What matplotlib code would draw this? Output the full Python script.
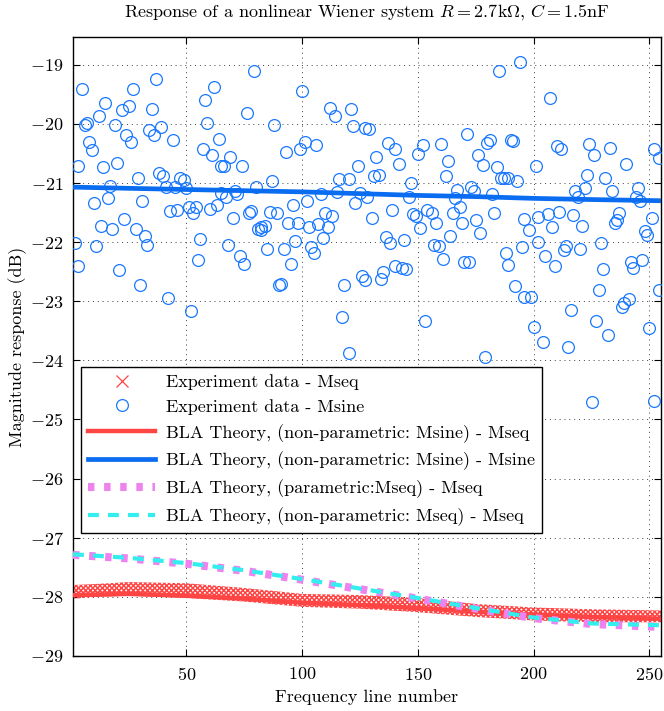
import matplotlib
matplotlib.use("Agg")
import matplotlib.pyplot as plt
from matplotlib.lines import Line2D

plt.rcParams["font.family"] = ["cmr10", "DejaVu Serif"]
plt.rcParams["mathtext.fontset"] = "cm"
plt.rcParams["axes.formatter.use_mathtext"] = True
plt.rcParams["axes.unicode_minus"] = True
plt.rcParams["hatch.linewidth"] = 1.1

# Msine experiment: one point per frequency line
msine_line = [
    2, 3, 3, 5, 6, 7, 8, 9, 10, 11, 12, 13, 14, 15, 16, 17, 18, 19, 20, 21,
    22, 23, 24, 25, 26, 27, 28, 29, 30, 31, 32, 33, 34, 35, 36, 37, 38, 39, 40, 41,
    42, 43, 44, 45, 46, 47, 49, 50, 51, 52, 53, 54, 55, 56, 57, 58, 59, 60, 61, 62,
    63, 64, 65, 65, 66, 67, 68, 69, 70, 71, 72, 73, 74, 75, 76, 77, 78, 79, 80, 81,
    82, 82, 84, 85, 86, 87, 88, 89, 90, 91, 92, 93, 94, 95, 96, 97, 98, 99, 100, 101,
    102, 103, 104, 105, 106, 107, 108, 109, 110, 111, 112, 113, 114, 115, 116, 117, 118, 120, 120, 121,
    122, 123, 124, 125, 126, 127, 127, 128, 129, 130, 131, 132, 133, 134, 135, 136, 137, 138, 139, 140,
    140, 142, 143, 144, 145, 146, 147, 148, 149, 150, 151, 152, 153, 154, 156, 157, 158, 159, 160, 161,
    162, 163, 164, 165, 166, 167, 168, 169, 170, 171, 172, 173, 174, 175, 176, 177, 178, 179, 180, 181,
    182, 183, 184, 185, 186, 187, 188, 189, 189, 190, 191, 192, 193, 194, 195, 196, 196, 198, 199, 200,
    201, 202, 202, 204, 205, 206, 207, 208, 209, 210, 211, 212, 213, 214, 215, 216, 217, 218, 219, 220,
    221, 222, 223, 224, 225, 226, 227, 228, 229, 230, 231, 232, 233, 234, 235, 236, 237, 238, 239, 240,
    241, 242, 243, 244, 245, 246, 247, 248, 249, 250, 251, 252, 252, 254, 254,
]
msine_db = [
    -22.01, -20.72, -22.41, -19.41, -20.02, -19.99, -20.31, -20.44, -21.34, -22.07,
    -19.86, -21.72, -20.73, -19.65, -21.26, -21.05, -21.78, -20.02, -20.66, -22.47,
    -19.77, -21.61, -20.18, -19.70, -20.30, -19.41, -21.78, -20.91, -22.73, -21.31,
    -21.89, -22.05, -20.10, -19.75, -20.18, -19.24, -20.83, -20.06, -20.89, -21.07,
    -22.95, -21.48, -20.27, -21.06, -21.45, -20.92, -20.95, -21.09, -21.41, -23.17,
    -21.51, -21.41, -22.31, -21.94, -20.42, -19.60, -19.99, -21.44, -20.52, -19.38,
    -21.37, -20.26, -20.72, -21.17, -20.71, -21.23, -22.05, -20.56, -21.59, -21.14,
    -21.18, -22.23, -20.72, -22.37, -19.82, -21.51, -21.48, -19.10, -21.06, -21.77,
    -21.79, -21.74, -21.72, -22.12, -21.49, -20.96, -20.02, -21.51, -22.72, -22.71,
    -22.12, -20.48, -21.68, -22.37, -21.37, -21.98, -21.67, -20.43, -19.44, -20.30,
    -21.30, -21.74, -22.09, -22.19, -20.36, -21.69, -21.18, -21.93, -21.51, -21.75,
    -19.73, -21.55, -19.86, -21.16, -20.93, -23.26, -22.73, -20.93, -23.87, -19.74,
    -20.03, -21.34, -20.71, -21.17, -22.57, -22.64, -20.07, -21.24, -20.08, -21.59,
    -20.88, -20.56, -20.86, -22.63, -22.51, -21.92, -20.33, -22.02, -21.46, -20.43,
    -22.40, -20.68, -22.44, -21.96, -22.45, -21.23, -21.00, -21.52, -21.55, -20.51,
    -21.76, -20.35, -23.34, -21.45, -21.51, -22.05, -21.68, -22.07, -20.34, -22.28,
    -20.89, -20.62, -21.89, -21.50, -21.26, -21.12, -21.40, -21.68, -22.34, -20.17,
    -22.33, -21.06, -21.14, -21.62, -20.52, -21.85, -20.69, -23.95, -20.33, -20.27,
    -21.19, -21.51, -20.73, -19.10, -20.92, -20.92, -22.19, -20.92, -22.38, -20.28,
    -20.29, -22.75, -20.96, -18.95, -22.09, -21.61, -22.93, -21.79, -22.93, -23.44,
    -20.72, -22.00, -21.57, -23.69, -22.23, -21.53, -19.56, -21.74, -22.41, -20.38,
    -21.49, -20.42, -22.13, -22.07, -23.77, -23.15, -21.54, -21.14, -21.24, -22.11,
    -21.72, -21.08, -20.86, -20.34, -24.70, -20.52, -23.33, -22.81, -22.01, -22.46,
    -20.91, -23.57, -20.40, -21.13, -21.68, -21.62, -21.51, -23.09, -23.03, -20.68,
    -22.96, -22.34, -22.43, -21.24, -21.09, -21.30, -22.31, -21.82, -21.88, -23.46,
    -21.59, -24.69, -20.42, -20.58, -22.81,
]

# Mseq experiment: spread of all realisations (upper / lower edge of the cloud)
mseq_band_line = [1, 12, 25, 50, 75, 100, 125, 150, 175, 200, 225, 255]
mseq_band_top = [-27.80, -27.78, -27.75, -27.77, -27.85, -27.95, -27.97, -28.02,
                 -28.12, -28.18, -28.21, -28.23]
mseq_band_bottom = [-28.03, -28.00, -27.98, -28.02, -28.08, -28.17, -28.20, -28.26,
                    -28.34, -28.40, -28.43, -28.43]

# BLA theory curves
bla_line = [1, 25, 50, 75, 100, 125, 150, 175, 200, 225, 255]
bla_msine_mseq = [-27.97, -27.95, -27.98, -28.03, -28.10, -28.14, -28.19, -28.25,
                  -28.30, -28.34, -28.37]
bla_msine_msine = [-21.07, -21.09, -21.11, -21.13, -21.15, -21.18, -21.21, -21.23,
                   -21.26, -21.28, -21.30]
bla_param_mseq = [-27.29, -27.35, -27.44, -27.56, -27.71, -27.87, -28.03, -28.20,
                  -28.36, -28.46, -28.51]
bla_nonparam_mseq = [-27.28, -27.34, -27.43, -27.55, -27.70, -27.86, -28.02, -28.19,
                     -28.35, -28.45, -28.48]

labels = [
    "Experiment data - Mseq",
    "Experiment data - Msine",
    "BLA Theory, (non-parametric: Msine) - Mseq",
    "BLA Theory, (non-parametric: Msine) - Msine",
    "BLA Theory, (parametric:Mseq) - Mseq",
    "BLA Theory, (non-parametric: Mseq) - Mseq",
]

red = "#ff4444"
blue = "#0a6cf0"
circ = "#1a78ff"
violet = "#ee82ee"
cyan = "#33eeee"
fs = 13

fig = plt.figure(figsize=(6.64, 7.11), dpi=100)
ax = fig.add_axes([0.110, 0.0774, 0.8855, 0.8706])

ax.fill_between(mseq_band_line, mseq_band_bottom, mseq_band_top, facecolor="none",
                edgecolor=red, hatch="xxxxxxx", linewidth=0, zorder=2)
ax.plot(msine_line, msine_db, "o", ms=8.5, mfc="none", mec=circ, mew=0.9, zorder=3)
ax.plot(bla_line, bla_msine_mseq, color=red, lw=3.2, zorder=4)
ax.plot(bla_line, bla_msine_msine, color=blue, lw=3.4, zorder=4)
ax.plot(bla_line, bla_param_mseq, color=violet, lw=5.8, dashes=(0.8, 1.2),
        dash_capstyle="butt", zorder=5)
ax.plot(bla_line, bla_nonparam_mseq, color=cyan, lw=3.0, dashes=(2.6, 2.2),
        dash_capstyle="butt", zorder=6)

ax.set_xlim(1, 255)
ax.set_ylim(-29, -18.53)
ax.set_xticks([50, 100, 150, 200, 250])
ax.set_yticks(range(-29, -18))
ax.tick_params(direction="in", length=5, width=0.8, top=True, right=True,
               labelsize=fs, pad=7)
ax.grid(True, color="0.25", linestyle=(0, (1, 4)), linewidth=0.7)
for s in ax.spines.values():
    s.set_linewidth(1.0)

ax.set_title(r"Response of a nonlinear Wiener system $R = 2.7\mathrm{k}\Omega$, "
             r"$C = 1.5\mathrm{nF}$", fontsize=fs, pad=15)
ax.set_xlabel("Frequency line number", fontsize=fs, labelpad=5)
ax.set_ylabel("Magnitude response (dB)", fontsize=fs, labelpad=2)

handles = [
    Line2D([], [], ls="none", marker="x", ms=8, mec=red, mew=0.9),
    Line2D([], [], ls="none", marker="o", ms=8.5, mfc="none", mec=circ, mew=0.9),
    Line2D([], [], color=red, lw=3.2),
    Line2D([], [], color=blue, lw=3.4),
    Line2D([], [], color=violet, lw=5.8, dashes=(0.8, 1.2), dash_capstyle="butt"),
    Line2D([], [], color=cyan, lw=3.0, dashes=(2.6, 2.2), dash_capstyle="butt"),
]
leg = ax.legend(handles, labels, loc="upper left", bbox_to_anchor=(0.0136, 0.467),
                borderaxespad=0, fontsize=fs, handlelength=3.7, handletextpad=0.6,
                labelspacing=0.5, borderpad=0.4, fancybox=False, framealpha=1,
                edgecolor="black")
leg.get_frame().set_linewidth(1.0)
leg.set_zorder(10)

fig.savefig("out.png", dpi=100)
